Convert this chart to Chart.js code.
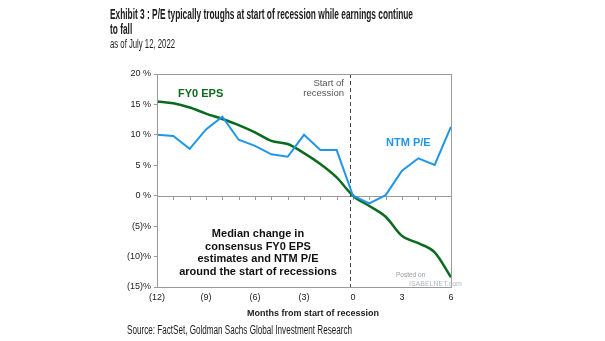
<!DOCTYPE html>
<html>
<head>
<meta charset="utf-8">
<script src="https://cdn.jsdelivr.net/npm/chart.js@4"></script>
<style>
  html, body { margin: 0; padding: 0; background: #fff; }
  #wrap { width: 605px; height: 341px; position: relative; }
</style>
</head>
<body>
<div id="wrap"><canvas id="chart" width="605" height="341"></canvas></div>
<script>
// months from start of recession
const months = [-12, -11, -10, -9, -8, -7, -6, -5, -4, -3, -2, -1, 0, 1, 2, 3, 4, 5, 6];
// median change, %
const fy0Eps = [15.5, 15.2, 14.5, 13.5, 12.6, 11.6, 10.4, 9.0, 8.5, 7.0, 5.2, 3.0, 0, -1.7, -3.45, -6.6, -7.8, -9.3, -13.4];
const ntmPe = [10.0, 9.8, 7.7, 10.9, 13.0, 9.2, 8.2, 6.8, 6.4, 10.0, 7.5, 7.5, 0, -1.25, 0.1, 4.1, 6.15, 5.05, 11.35];
const xTickValues = [-12, -9, -6, -3, 0, 3, 6];

const titleLines = [
  'Exhibit 3 : P/E typically troughs at start of recession while earnings continue',
  'to fall'
];
const subtitle = 'as of July 12, 2022';
const sourceText = 'Source: FactSet, Goldman Sachs Global Investment Research';
const xTitle = 'Months from start of recession';
const boxText = ['Median change in', 'consensus FY0 EPS', 'estimates and NTM P/E', 'around the start of recessions'];

const GREEN = '#0a6b1f';
const BLUE = '#2196e6';
const ARIAL = '"Liberation Sans", Arial, sans-serif';

const toPoints = vals => vals.map((v, i) => ({ x: months[i], y: v }));

// the original uses a condensed face; squeeze the text horizontally
function narrowText(ctx, text, x, y, squeeze) {
  ctx.save();
  ctx.translate(x, y);
  ctx.scale(squeeze, 1);
  ctx.fillText(text, 0, 0);
  ctx.restore();
}

// frame, zero line ticks, recession marker and text
const decorations = {
  id: 'decorations',
  beforeDatasetsDraw(chart) {
    const { ctx, chartArea: a, scales: { x, y } } = chart;
    ctx.save();
    // zero line with small ticks each month
    const y0 = Math.round(y.getPixelForValue(0));
    ctx.strokeStyle = '#9a9a9a';
    ctx.lineWidth = 1;
    ctx.beginPath();
    ctx.moveTo(a.left, y0 + 0.5);
    ctx.lineTo(a.right, y0 + 0.5);
    months.forEach(m => {
      const px = Math.round(x.getPixelForValue(m)) + 0.5;
      ctx.moveTo(px, y0);
      ctx.lineTo(px, y0 + 4);
    });
    ctx.stroke();
    // dashed line at start of recession
    const xr = Math.round(x.getPixelForValue(0)) - 2.5;
    ctx.strokeStyle = '#444';
    ctx.setLineDash([4, 3]);
    ctx.beginPath();
    ctx.moveTo(xr, a.top);
    ctx.lineTo(xr, a.bottom);
    ctx.stroke();
    ctx.restore();
  },
  afterDraw(chart) {
    const { ctx, chartArea: a } = chart;
    ctx.save();
    // plot frame
    ctx.strokeStyle = '#9a9a9a';
    ctx.lineWidth = 1;
    ctx.strokeRect(Math.round(a.left) + 0.5, Math.round(a.top) + 0.5,
      Math.round(a.right - a.left), Math.round(a.bottom - a.top));

    // titles
    ctx.fillStyle = '#1a1a1a';
    ctx.textBaseline = 'alphabetic';
    ctx.textAlign = 'left';
    ctx.font = 'bold 14px ' + ARIAL;
    const squeeze = 303 / ctx.measureText(titleLines[0]).width;
    narrowText(ctx, titleLines[0], 110, 19, squeeze);
    narrowText(ctx, titleLines[1], 110, 34, squeeze);
    ctx.font = '12.5px ' + ARIAL;
    narrowText(ctx, subtitle, 110, 48, 65 / ctx.measureText(subtitle).width);

    // source
    ctx.font = '12.5px ' + ARIAL;
    narrowText(ctx, sourceText, 127, 334, 225 / ctx.measureText(sourceText).width);

    // x axis title
    ctx.font = 'bold 9px ' + ARIAL;
    ctx.textAlign = 'center';
    ctx.fillText(xTitle, 313, 316);

    // series labels
    ctx.font = 'bold 11px ' + ARIAL;
    ctx.textAlign = 'left';
    ctx.fillStyle = GREEN;
    ctx.fillText('FY0 EPS', 178, 97);
    ctx.fillStyle = BLUE;
    ctx.fillText('NTM P/E', 386, 146);

    // recession marker label
    ctx.fillStyle = '#555';
    ctx.font = '9.5px ' + ARIAL;
    ctx.textAlign = 'right';
    ctx.fillText('Start of', 344, 86);
    ctx.fillText('recession', 344, 96);

    // description box text
    ctx.fillStyle = '#111';
    ctx.font = 'bold 11px ' + ARIAL;
    ctx.textAlign = 'center';
    boxText.forEach((t, i) => ctx.fillText(t, 258, 237 + i * 12.6));

    // watermark
    ctx.fillStyle = '#9a9a9a';
    ctx.font = '6.5px ' + ARIAL;
    ctx.textAlign = 'left';
    ctx.fillText('Posted on', 396, 277);
    ctx.fillStyle = '#b0b8c0';
    ctx.font = '7px ' + ARIAL;
    ctx.fillText('ISABELNET.com', 409, 286);
    ctx.restore();
  }
};

new Chart(document.getElementById('chart'), {
  type: 'line',
  data: {
    datasets: [
      {
        label: 'NTM P/E',
        data: toPoints(ntmPe),
        borderColor: BLUE,
        borderWidth: 2,
        pointRadius: 0,
        tension: 0
      },
      {
        label: 'FY0 EPS',
        data: toPoints(fy0Eps),
        borderColor: GREEN,
        borderWidth: 2.5,
        pointRadius: 0,
        cubicInterpolationMode: 'monotone'
      }
    ]
  },
  options: {
    responsive: false,
    animation: false,
    layout: { padding: { left: 100, right: 154, top: 74, bottom: 34 } },
    plugins: { legend: { display: false }, tooltip: { enabled: false } },
    scales: {
      x: {
        type: 'linear',
        min: -12,
        max: 6,
        grid: { display: false, tickLength: 0 },
        border: { display: false },
        afterFit(s) { s.height = 20; },
        afterBuildTicks(s) { s.ticks = xTickValues.map(v => ({ value: v })); },
        ticks: {
          padding: 5,
          color: '#222',
          font: { family: ARIAL, size: 9 },
          callback: v => v < 0 ? '(' + (-v) + ')' : String(v)
        }
      },
      y: {
        min: -15,
        max: 20,
        afterFit(s) { s.width = 57; },
        grid: { drawOnChartArea: false, drawTicks: true, tickLength: 3, color: '#9a9a9a' },
        border: { display: false },
        ticks: {
          stepSize: 5,
          padding: 3,
          color: '#222',
          font: { family: ARIAL, size: 9 },
          callback: v => v < 0 ? '(' + (-v) + ')%' : v + ' %'
        }
      }
    }
  },
  plugins: [decorations]
});
</script>
</body>
</html>
